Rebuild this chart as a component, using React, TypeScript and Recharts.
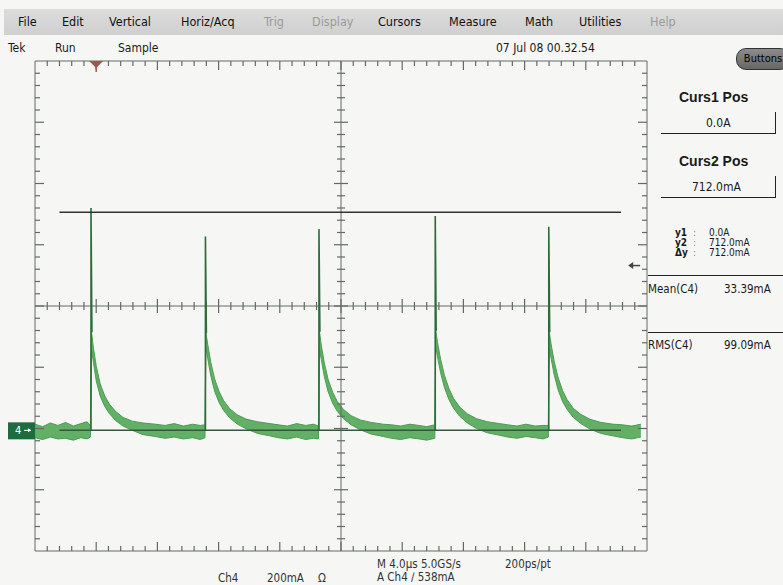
import {
  ComposedChart,
  Area,
  Line,
  XAxis,
  YAxis,
  ReferenceLine,
  ReferenceArea,
  ReferenceDot,
} from "recharts";

// time axis in µs (4 µs/div, 10 div), current in mA (200 mA/div, 8 div)
const X_DOMAIN = [0, 40];
const Y_DOMAIN = [-394, 1206];

// persistence band of Ch4 (low / high edge of the trace, mA)
const TIME_US = [
  0, 0.5, 1.0, 1.5, 2.0, 2.5, 3.0, 3.4, 3.62,
  3.69, 3.81, 4.01, 4.26, 4.56, 4.86, 5.26, 5.76, 6.36, 7.06, 7.86, 8.5, 9.1, 9.7, 10.3, 10.8, 11.11,
  11.17, 11.29, 11.49, 11.74, 12.04, 12.34, 12.74, 13.24, 13.84, 14.54, 15.34, 15.9, 16.5, 17.1, 17.7, 18.2, 18.53,
  18.59, 18.71, 18.91, 19.16, 19.46, 19.76, 20.16, 20.66, 21.26, 21.96, 22.76, 23.3, 23.9, 24.5, 25.1, 25.6, 26.13,
  26.19, 26.31, 26.51, 26.76, 27.06, 27.36, 27.76, 28.26, 28.86, 29.56, 30.36, 30.9, 31.5, 32.1, 32.7, 33.2, 33.55,
  33.61, 33.73, 33.93, 34.18, 34.48, 34.78, 35.18, 35.68, 36.28, 36.98, 37.78, 38.4, 39.0, 39.6,
];
const BAND_LO = [
  -24, -30, -22, -28, -26, -32, -24, -28, -22,
  265, 225, 160, 112, 78, 55, 32, 14, 0, -14, -20, -26, -22, -28, -24, -30, -24,
  270, 235, 178, 128, 90, 64, 40, 20, 4, -10, -18, -24, -28, -22, -30, -26, -28,
  268, 232, 176, 126, 88, 62, 38, 18, 2, -12, -20, -26, -30, -24, -28, -32, -26,
  272, 240, 188, 140, 100, 72, 46, 24, 6, -8, -16, -22, -26, -20, -24, -28, -22,
  268, 236, 182, 134, 94, 68, 42, 22, 4, -10, -18, -24, -28, -22,
];
const BAND_HI = [
  20, 12, 24, 16, 26, 14, 22, 28, 16,
  322, 272, 208, 152, 112, 86, 62, 42, 30, 24, 20, 16, 22, 14, 20, 16, 18,
  320, 280, 222, 168, 126, 96, 70, 50, 36, 28, 22, 18, 14, 22, 16, 20, 14,
  324, 278, 220, 166, 124, 94, 68, 48, 34, 26, 20, 18, 14, 20, 16, 12, 18,
  326, 287, 232, 180, 136, 104, 76, 54, 38, 28, 22, 18, 14, 20, 14, 16, 16,
  322, 282, 226, 174, 130, 100, 72, 52, 36, 26, 20, 18, 14, 20,
];

// thin rising edges of the five pulses
const PULSE_T = [3.66, 11.14, 18.56, 26.16, 33.58];
const PULSE_PEAK = [726, 633, 657, 700, 665];
const PULSE_DROP = [320, 318, 322, 325, 320];

const CURSOR1_MA = 0;
const CURSOR2_MA = 712;
const CURSOR_SPAN = [1.6, 38.3];
const TRIGGER_T = 4.0;
const TRIGGER_MA = 538;

const MENU = [
  { label: "File", x: 18, dim: false },
  { label: "Edit", x: 62, dim: false },
  { label: "Vertical", x: 109, dim: false },
  { label: "Horiz/Acq", x: 181, dim: false },
  { label: "Trig", x: 264, dim: true },
  { label: "Display", x: 312, dim: true },
  { label: "Cursors", x: 378, dim: false },
  { label: "Measure", x: 449, dim: false },
  { label: "Math", x: 525, dim: false },
  { label: "Utilities", x: 579, dim: false },
  { label: "Help", x: 650, dim: true },
];

const bandData = TIME_US.map((t, i) => ({ t, band: [BAND_LO[i], BAND_HI[i]] }));
const edgeData = PULSE_T.flatMap((t, i) => [
  { t, v: 0 },
  { t, v: PULSE_PEAK[i] },
  { t: t + 0.06, v: PULSE_DROP[i] },
  { t: t + 0.07, v: null },
]);
const cursor1Data = CURSOR_SPAN.map((t) => ({ t, v: CURSOR1_MA }));

// graticule: 5 minor ticks per division; tick lengths given in px, converted to data units
const GRID_X = Array.from({ length: 51 }, (_, k) => k * 0.8);
const GRID_Y = Array.from({ length: 41 }, (_, k) => Y_DOMAIN[0] + k * 40);
const X_MID = 20;
const Y_MID = Y_DOMAIN[0] + 800;
const PX_PER_US = 612 / 40;
const PX_PER_MA = 490 / 1600;

type Seg = { key: string; seg: { x: number; y: number }[] };
const gratSegs: Seg[] = [];
GRID_X.forEach((x, k) => {
  if (k === 0 || k === GRID_X.length - 1) return;
  const major = k % 5 === 0;
  const len = (major ? 9 : 5) / PX_PER_MA;
  const c = (major ? 7 : 4) / PX_PER_MA;
  gratSegs.push({ key: `xb${k}`, seg: [{ x, y: Y_DOMAIN[0] }, { x, y: Y_DOMAIN[0] + len }] });
  gratSegs.push({ key: `xt${k}`, seg: [{ x, y: Y_DOMAIN[1] - len }, { x, y: Y_DOMAIN[1] }] });
  gratSegs.push({ key: `xc${k}`, seg: [{ x, y: Y_MID - c }, { x, y: Y_MID + c }] });
});
GRID_Y.forEach((y, k) => {
  if (k === 0 || k === GRID_Y.length - 1) return;
  const major = k % 5 === 0;
  const len = (major ? 9 : 5) / PX_PER_US;
  const c = (major ? 7 : 4) / PX_PER_US;
  gratSegs.push({ key: `yl${k}`, seg: [{ x: X_DOMAIN[0], y }, { x: X_DOMAIN[0] + len, y }] });
  gratSegs.push({ key: `yr${k}`, seg: [{ x: X_DOMAIN[1] - len, y }, { x: X_DOMAIN[1], y }] });
  gratSegs.push({ key: `yc${k}`, seg: [{ x: X_MID - c, y }, { x: X_MID + c, y }] });
});

const GRAT = "#636a63";
const FONT = '"Liberation Sans Narrow", "DejaVu Sans Condensed", "Arial Narrow", sans-serif';
const BOLD_FONT = '"Liberation Sans", Arial, sans-serif';

const ChannelMarker = (p: any) => (
  <g>
    <rect x={p.cx - 27} y={p.cy - 8} width={27} height={17} fill="#1f6b3f" />
    <text x={p.cx - 20} y={p.cy + 4} fill="#fff" fontSize={11} fontFamily={FONT}>
      4
    </text>
    <line x1={p.cx - 11} x2={p.cx - 4} y1={p.cy} y2={p.cy} stroke="#fff" />
    <path d={`M${p.cx - 4},${p.cy} l-3,-2 l0,4 z`} fill="#fff" />
  </g>
);

const TriggerMarker = (p: any) => (
  <g>
    <path d={`M${p.cx - 7},${p.cy} L${p.cx + 7},${p.cy} L${p.cx},${p.cy + 7} z`} fill="#a0574d" />
    <line x1={p.cx} x2={p.cx} y1={p.cy} y2={p.cy + 11} stroke="#a0574d" strokeWidth={1.5} />
  </g>
);

const LevelArrow = (p: any) => (
  <g>
    <line x1={p.cx} x2={p.cx + 10} y1={p.cy} y2={p.cy} stroke="#444" strokeWidth={1.5} />
    <path d={`M${p.cx - 2},${p.cy} l5,-3.5 l0,7 z`} fill="#444" />
  </g>
);

const txt = (
  s: string,
  x: number,
  y: number,
  extra: React.CSSProperties = {}
) => (
  <div
    style={{
      position: "absolute",
      left: x,
      top: y,
      fontFamily: FONT,
      fontSize: 12,
      lineHeight: "12px",
      color: "#1a1a1a",
      whiteSpace: "nowrap",
      ...extra,
    }}
  >
    {s}
  </div>
);

const hline = (x: number, y: number, w: number) => (
  <div style={{ position: "absolute", left: x, top: y, width: w, height: 1, background: "#222" }} />
);
const vline = (x: number, y: number, h: number) => (
  <div style={{ position: "absolute", left: x, top: y, width: 1, height: h, background: "#222" }} />
);

const small = { fontSize: 10, lineHeight: "10px" };

export default function App() {
  return (
    <div
      style={{
        position: "absolute",
        left: 0,
        top: 0,
        width: 783,
        height: 585,
        background: "#f6f7f4",
        overflow: "hidden",
      }}
    >
      {/* menu bar */}
      <div
        style={{
          position: "absolute",
          left: 4,
          top: 9,
          width: 779,
          height: 26,
          background: "linear-gradient(#dcdcdc, #cfcfcf)",
        }}
      />
      {MENU.map((m) =>
        txt(m.label, m.x, 16, { color: m.dim ? "#9a9a9a" : "#111", fontSize: 12.5 })
      )}

      {/* status line */}
      {txt("Tek", 8, 42)}
      {txt("Run", 55, 42)}
      {txt("Sample", 118, 42)}
      {txt("07 Jul 08 00.32.54", 496, 42)}

      <ComposedChart
        width={783}
        height={585}
        data={bandData}
        margin={{ top: 61, right: 136, bottom: 34, left: 35 }}
        style={{ position: "absolute", left: 0, top: 0 }}
      >
        <XAxis dataKey="t" type="number" domain={X_DOMAIN} allowDataOverflow hide />
        <YAxis type="number" domain={Y_DOMAIN} allowDataOverflow hide />

        <ReferenceArea
          x1={X_DOMAIN[0]}
          x2={X_DOMAIN[1]}
          y1={Y_DOMAIN[0]}
          y2={Y_DOMAIN[1]}
          fill="none"
          stroke={GRAT}
          strokeWidth={1}
        />
        <ReferenceLine x={X_MID} stroke={GRAT} />
        <ReferenceLine y={Y_MID} stroke={GRAT} />
        {gratSegs.map((s) => (
          <ReferenceLine key={s.key} segment={s.seg} stroke={GRAT} strokeWidth={1.2} />
        ))}

        <Line
          data={cursor1Data}
          dataKey="v"
          type="linear"
          stroke="#35583c"
          strokeWidth={1.5}
          dot={false}
          activeDot={false}
          isAnimationActive={false}
        />
        <Area
          dataKey="band"
          type="linear"
          fill="#5aac5e"
          fillOpacity={0.95}
          stroke="#4b9c52"
          strokeWidth={1}
          isAnimationActive={false}
          dot={false}
          activeDot={false}
        />
        <Line
          data={edgeData}
          dataKey="v"
          type="linear"
          stroke="#2f6b3b"
          strokeWidth={1.6}
          dot={false}
          activeDot={false}
          connectNulls={false}
          isAnimationActive={false}
        />
        <ReferenceLine
          segment={[
            { x: CURSOR_SPAN[0], y: CURSOR2_MA },
            { x: CURSOR_SPAN[1], y: CURSOR2_MA },
          ]}
          stroke="#333"
          strokeWidth={1.5}
        />

        <ReferenceDot x={X_DOMAIN[0]} y={0} ifOverflow="visible" shape={ChannelMarker} />
        <ReferenceDot x={TRIGGER_T} y={Y_DOMAIN[1]} ifOverflow="visible" shape={TriggerMarker} />
        <ReferenceDot x={38.9} y={TRIGGER_MA} ifOverflow="visible" shape={LevelArrow} />
      </ComposedChart>

      {/* right side panel */}
      <div
        style={{
          position: "absolute",
          left: 736,
          top: 48,
          width: 52,
          height: 20,
          borderRadius: 10,
          background: "linear-gradient(#8c8c8c, #666)",
          border: "1px solid #333",
          fontFamily: FONT,
          fontSize: 11,
          lineHeight: "20px",
          textAlign: "center",
          color: "#000",
        }}
      >
        Buttons
      </div>
      {txt("Curs1 Pos", 679, 90, { fontFamily: BOLD_FONT, fontWeight: "bold", fontSize: 14, lineHeight: "14px" })}
      {txt("0.0A", 706, 117)}
      {hline(661, 133, 115)}
      {vline(775, 112, 22)}
      {txt("Curs2 Pos", 679, 154, { fontFamily: BOLD_FONT, fontWeight: "bold", fontSize: 14, lineHeight: "14px" })}
      {txt("712.0mA", 692, 181)}
      {hline(661, 197, 115)}
      {vline(775, 176, 22)}

      {txt("y1", 675, 228, { ...small, fontWeight: "bold" })}
      {txt("y2", 675, 238, { ...small, fontWeight: "bold" })}
      {txt("\u0394y", 675, 248, { ...small, fontWeight: "bold" })}
      {txt(":", 693, 228, { ...small, color: "#888" })}
      {txt(":", 693, 238, { ...small, color: "#888" })}
      {txt(":", 693, 248, { ...small, color: "#888" })}
      {txt("0.0A", 709, 228, small)}
      {txt("712.0mA", 709, 238, small)}
      {txt("712.0mA", 709, 248, small)}

      {hline(648, 275, 135)}
      {txt("Mean(C4)", 648, 283, { fontSize: 11.5 })}
      {txt("33.39mA", 724, 283, { fontSize: 11.5 })}
      {hline(648, 332, 135)}
      {txt("RMS(C4)", 648, 339, { fontSize: 11.5 })}
      {txt("99.09mA", 724, 339, { fontSize: 11.5 })}

      {/* bottom readouts */}
      {txt("Ch4", 218, 572, { color: "#333", fontSize: 11.5 })}
      {txt("200mA", 267, 572, { color: "#333", fontSize: 11.5 })}
      {txt("\u03a9", 318, 572, { color: "#333", fontSize: 11.5 })}
      {txt("M 4.0\u00b5s 5.0GS/s", 377, 558, { color: "#333", fontSize: 11.5 })}
      {txt("200ps/pt", 505, 558, { color: "#333", fontSize: 11.5 })}
      {txt("A Ch4 \u2215 538mA", 377, 571, { color: "#333", fontSize: 11.5 })}
    </div>
  );
}
